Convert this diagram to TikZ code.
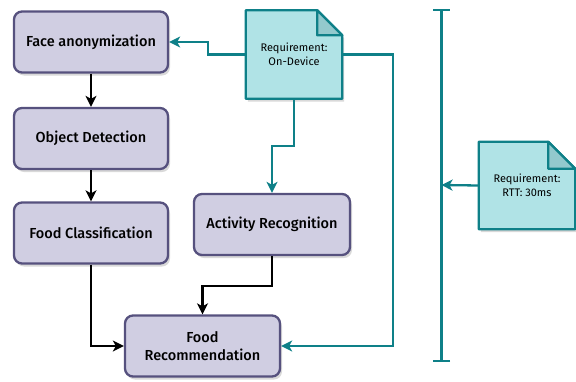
\documentclass[tikz,border=0pt]{standalone}
\usepackage{fontspec}
\setmainfont{Fira Sans}[BoldFont={Fira Sans Medium}]
\usetikzlibrary{arrows.meta,calc,shadows}
\definecolor{boxfill}{HTML}{D0CEE2}
\definecolor{boxline}{HTML}{56517E}
\definecolor{notefill}{HTML}{B0E3E6}
\definecolor{noteline}{HTML}{0E8088}
\definecolor{notefold}{HTML}{93C9CD}
\tikzset{
  x=1pt,y=-1pt,
  procbox/.style={draw=boxline, fill=boxfill, line width=2.3pt, rounded corners=8pt,
    minimum width=154pt, minimum height=61pt, align=center, font=\bfseries\fontsize{14.5}{18}\selectfont,
    drop shadow={shadow xshift=2pt, shadow yshift=-3pt, opacity=0.3, fill=gray}},
  notebox/.style={minimum width=96pt, minimum height=88pt, align=center,
    font=\fontsize{11}{14}\selectfont, inner sep=0pt},
  blk/.style={draw=black, line width=2.3pt, -{Stealth[length=11pt,width=11pt,inset=3pt]}},
  teal/.style={draw=noteline, line width=2.3pt, -{Stealth[length=11pt,width=11pt,inset=3pt]}},
}
\newcommand{\notedraw}[2]{%
  \fill[gray, opacity=0.3] ($(#1.north west)+(2,3)$) -- ($(#1.north east)+(-#2+2,3)$) -- ($(#1.north east)+(2,#2+3)$) -- ($(#1.south east)+(2,3)$) -- ($(#1.south west)+(2,3)$) -- cycle;
  \draw[draw=noteline, fill=notefill, line width=2.3pt, line join=round] (#1.north west) -- ($(#1.north east)+(-#2,0)$) -- ($(#1.north east)+(0,#2)$) -- (#1.south east) -- (#1.south west) -- cycle;
  \draw[draw=noteline, fill=notefold, line width=2.3pt, line join=round] ($(#1.north east)+(-#2,0)$) -- ($(#1.north east)+(-#2,#2)$) -- ($(#1.north east)+(0,#2)$) -- cycle;
}
\begin{document}
\begin{tikzpicture}
\useasboundingbox (0,0) rectangle (576,381);
\node[procbox] (face) at (91,42) {Face anonymization};
\node[procbox] (obj) at (91,138.5) {Object Detection};
\node[procbox] (fc) at (91,233) {Food Classification};
\node[procbox, minimum width=156pt] (act) at (272,224.5) {Activity Recognition};
\node[procbox, minimum width=155pt] (rec) at (202.5,346) {Food\\Recommendation};

\node[notebox] (n1) at (294,54.5) {};
\notedraw{n1}{25}
\node[notebox] at (294,54.5) {Requirement:\\On-Device};

\node[notebox, minimum height=87pt] (n2) at (527,185.5) {};
\notedraw{n2}{27}
\node[notebox, minimum height=87pt] at (527,185.5) {Requirement:\\RTT: 30ms};

\coordinate (bartop) at (441.5,9);
\coordinate (barbot) at (441.5,362);
\coordinate (barmid) at (441.5,185);
\draw[draw=noteline, line width=2.3pt, {Bar[width=17pt,line width=2.3pt]}-{Bar[width=17pt,line width=2.3pt]}] (bartop) -- (barbot);

\draw[blk] (face.south) -- (obj.north);
\draw[blk] (obj.south) -- (fc.north);
\draw[blk] (fc.south) |- (rec.west);
\draw[blk] (act.south) -- ++(0,30) -| (rec.north);

\draw[teal] (n1.west) -- ++(-38,0) |- (face.east);
\draw[teal] (n1.east) -- ++(51,0) |- (rec.east);
\draw[teal] (n1.south) -- ++(0,47) -| (act.north);
\draw[teal] (n2.west) -- (barmid);
\end{tikzpicture}
\end{document}
